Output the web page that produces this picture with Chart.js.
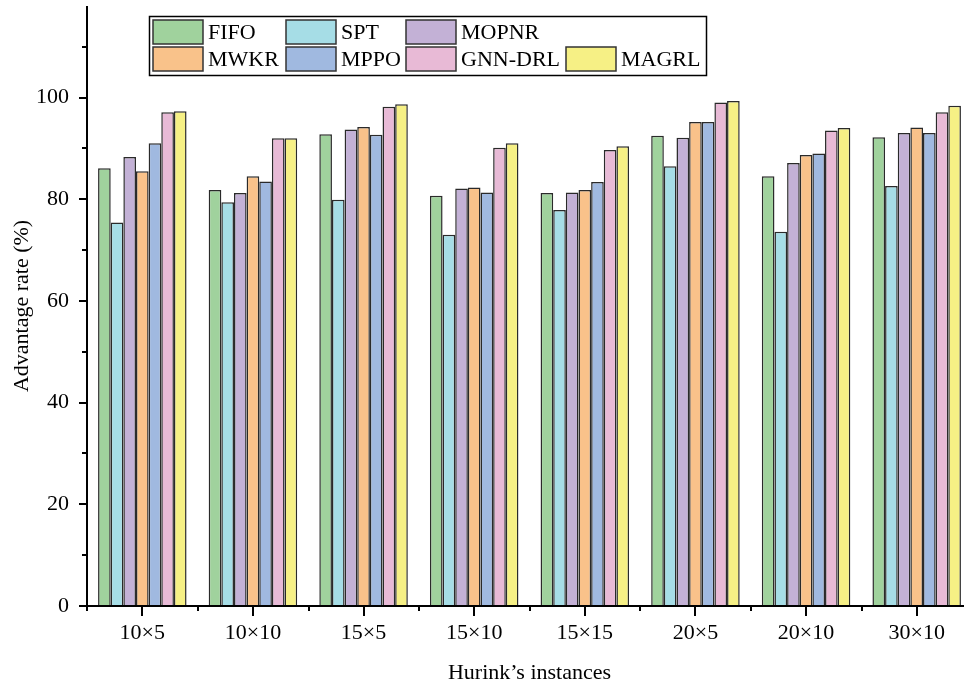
<!DOCTYPE html>
<html>
<head>
<meta charset="utf-8">
<script src="https://cdn.jsdelivr.net/npm/chart.js@4"></script>
<style>
    html, body { margin: 0; padding: 0; background: #fff; overflow: hidden; }
    #wrap { width: 964px; height: 687px; overflow: hidden; }
</style>
</head>
<body>
<div id="wrap"><canvas id="advChart" width="972" height="687"></canvas></div>
<script>
// Instance sizes on the x axis
const instances = ['10×5', '10×10', '15×5', '15×10', '15×15', '20×5', '20×10', '30×10'];

// Advantage rate (%) per method
const fifo   = [86.1, 81.8, 92.8, 80.7, 81.2, 92.5, 84.5, 92.2];
const spt    = [75.4, 79.4, 79.9, 73.0, 77.9, 86.5, 73.6, 82.6];
const mopnr  = [88.3, 81.2, 93.7, 82.1, 81.3, 92.1, 87.1, 93.0];
const mwkr   = [85.5, 84.5, 94.2, 82.3, 81.8, 95.2, 88.7, 94.1];
const mppo   = [91.0, 83.5, 92.7, 81.3, 83.4, 95.2, 89.0, 93.0];
const gnnDrl = [97.1, 92.0, 98.2, 90.1, 89.7, 99.0, 93.5, 97.1];
const magrl  = [97.3, 92.0, 98.7, 91.0, 90.4, 99.3, 94.0, 98.4];

const methods = ['FIFO', 'SPT', 'MOPNR', 'MWKR', 'MPPO', 'GNN-DRL', 'MAGRL'];
const series = [fifo, spt, mopnr, mwkr, mppo, gnnDrl, magrl];
const colors = ['#a0d29d', '#a6dde6', '#c3b1d6', '#f9c28a', '#a0b9e0', '#e8bad6', '#f6f085'];

const serif = '"Liberation Serif", "Times New Roman", serif';
Chart.defaults.font.family = serif;
Chart.defaults.color = '#000';

// axis lines + major/minor tick marks, drawn over the bars like the original
const tickMarks = {
    id: 'tickMarks',
    afterDatasetsDraw(chart) {
        const ctx = chart.ctx;
        const x = chart.scales.x, y = chart.scales.y;
        const area = chart.chartArea;
        ctx.save();
        ctx.strokeStyle = '#000';
        ctx.lineWidth = 2;
        ctx.lineCap = 'butt';
        ctx.beginPath();
        // axis lines
        ctx.moveTo(area.left, area.top);
        ctx.lineTo(area.left, area.bottom + 1);
        ctx.moveTo(area.left - 1, area.bottom);
        ctx.lineTo(area.right, area.bottom);
        for (let v = 0; v <= 110; v += 10) {
            const py = Math.round(y.getPixelForValue(v));
            const len = v % 20 === 0 ? 8 : 5;
            ctx.moveTo(area.left, py);
            ctx.lineTo(area.left - len, py);
        }
        const n = instances.length;
        const half = (x.getPixelForTick(1) - x.getPixelForTick(0)) / 2;
        for (let i = 0; i < n; i++) {
            const cx = Math.round(x.getPixelForTick(i));
            ctx.moveTo(cx, area.bottom);
            ctx.lineTo(cx, area.bottom + 10);
            const bx = Math.round(cx - half);
            ctx.moveTo(bx, area.bottom);
            ctx.lineTo(bx, area.bottom + 5);
        }
        ctx.stroke();
        ctx.restore();
    }
};

// two-row boxed legend
const boxLegend = {
    id: 'boxLegend',
    afterDraw(chart) {
        const ctx = chart.ctx;
        const slots = [
            [153, 20], [286, 20], [406, 20],
            [153, 47], [286, 47], [406, 47], [566, 47]
        ];
        ctx.save();
        ctx.fillStyle = '#fff';
        ctx.fillRect(149.5, 16.5, 557, 59);
        ctx.strokeStyle = '#000';
        ctx.lineWidth = 1.5;
        ctx.strokeRect(149.5, 16.5, 557, 59);
        ctx.font = '22px ' + serif;
        ctx.textBaseline = 'middle';
        chart.data.datasets.forEach((ds, i) => {
            const [sx, sy] = slots[i];
            ctx.fillStyle = ds.backgroundColor;
            ctx.fillRect(sx, sy, 50, 24);
            ctx.strokeStyle = '#333';
            ctx.lineWidth = 1.5;
            ctx.strokeRect(sx, sy, 50, 24);
            ctx.fillStyle = '#000';
            ctx.fillText(ds.label, sx + 55, sy + 13);
        });
        ctx.restore();
    }
};

new Chart(document.getElementById('advChart'), {
    type: 'bar',
    data: {
        labels: instances,
        datasets: methods.map((m, i) => ({
            label: m,
            data: series[i],
            backgroundColor: colors[i],
            borderColor: '#2a2a2a',
            borderWidth: 1.5,
            categoryPercentage: 0.8,
            barPercentage: 1.0
        }))
    },
    options: {
        responsive: false,
        animation: false,
        layout: { padding: { top: 6, left: 0, right: 0, bottom: 0 } },
        plugins: {
            legend: { display: false },
            tooltip: { enabled: false }
        },
        scales: {
            x: {
                grid: { display: false },
                border: { display: false },
                ticks: { font: { size: 22 }, padding: 6, maxRotation: 0 },
                title: {
                    display: true,
                    text: 'Hurink’s instances',
                    font: { size: 22 },
                    padding: { top: 0, bottom: 1 }
                },
                afterFit(scale) {
                    scale.height = 81;
                    scale.paddingLeft = 0;
                    scale.paddingRight = 0;
                }
            },
            y: {
                min: 0,
                max: 118,
                grid: { display: false },
                border: { display: false },
                ticks: { stepSize: 20, includeBounds: false, font: { size: 22 }, padding: 10 },
                title: {
                    display: true,
                    text: 'Advantage rate (%)',
                    font: { size: 22 },
                    padding: { top: 9, bottom: 0 }
                },
                afterFit(scale) {
                    scale.width = 87;
                    scale.paddingTop = 0;
                    scale.paddingBottom = 0;
                }
            }
        }
    },
    plugins: [tickMarks, boxLegend]
});
</script>
</body>
</html>
